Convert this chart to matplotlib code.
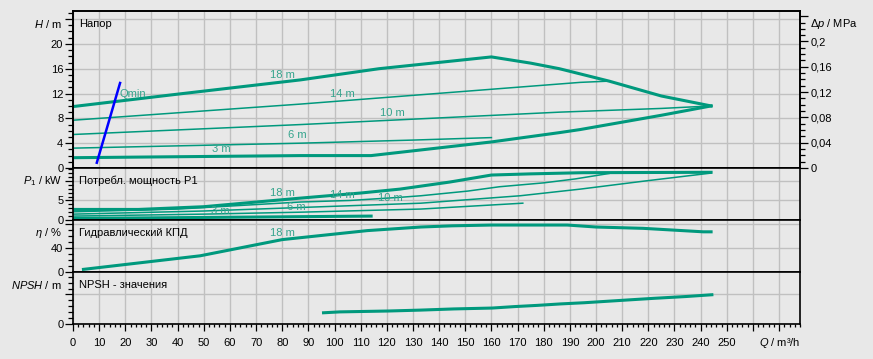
import matplotlib
matplotlib.use("Agg")
import matplotlib.pyplot as plt
from matplotlib.ticker import MultipleLocator, FixedLocator, FuncFormatter

plt.rcParams['font.family'] = ['Liberation Sans', 'DejaVu Sans']
plt.rcParams['font.size'] = 8
plt.rcParams['mathtext.fontset'] = 'custom'
plt.rcParams['mathtext.rm'] = 'Liberation Sans'
plt.rcParams['mathtext.it'] = 'Liberation Sans:italic'

# --- Напор (H, m) ---
q_h18 = [0, 40, 87, 117, 160, 175, 186, 205, 225, 244]
h_18 = [9.9, 11.9, 14.2, 16.0, 17.9, 16.9, 16.0, 14.0, 11.6, 10.0]
q_h14 = [0, 87, 194, 205]
h_14 = [7.7, 10.3, 13.8, 14.0]
q_h10 = [0, 87, 186, 225, 244]
h_10 = [5.4, 7.0, 9.0, 9.6, 10.0]
q_h6 = [0, 87, 130, 160]
h_6 = [3.2, 4.0, 4.5, 4.9]
q_h3 = [0, 87, 114, 160, 186, 194, 225, 244]
h_3 = [1.66, 2.0, 2.0, 4.2, 5.7, 6.2, 8.5, 10.0]
q_min = [9.1, 18.0]
h_min = [0.85, 13.7]

# --- Потребл. мощность P1 (kW) ---
q_p18 = [0, 25, 50, 87, 110, 125, 144, 160, 175, 195, 244]
p_18 = [2.7, 2.7, 3.4, 5.6, 6.9, 7.9, 9.7, 11.5, 11.8, 12.1, 12.2]
q_p14 = [0, 40, 87, 106, 125, 133, 151, 163, 180, 192, 205]
p_14 = [2.1, 2.8, 4.6, 5.0, 5.8, 6.2, 7.4, 8.5, 9.5, 10.5, 11.9]
q_p10 = [0, 50, 87, 133, 171, 194, 219, 244]
p_10 = [1.5, 2.3, 3.2, 4.3, 6.2, 7.9, 10.0, 12.0]
q_p6 = [0, 50, 87, 133, 172]
p_6 = [1.0, 1.5, 2.0, 2.8, 4.3]
q_p3 = [0, 60, 114]
p_3 = [0.4, 0.7, 1.0]

# --- Гидравлический КПД (%) ---
q_eta = [4, 20, 48.6, 80, 112.5, 133, 145, 160, 189, 200, 218, 241, 244]
eta_18 = [4.4, 12.5, 27, 54, 69, 75, 77, 78.3, 78.3, 75, 72.8, 67, 67]

# --- NPSH (m) ---
q_npsh = [95.8, 102, 120.7, 132.8, 145.6, 160.3, 169, 177.5, 186.5, 195.5,
          204.4, 213.3, 222.3, 234.4, 244.3]
npsh = [1.9, 2.05, 2.2, 2.35, 2.55, 2.7, 2.95, 3.15, 3.4, 3.6, 3.85, 4.1,
        4.35, 4.65, 4.95]

BG = '#e8e8e8'
GRID = '#c0c0c0'
TEAL = '#00997d'
LBL = '#36a48d'
W, H = 873, 359
THICK, THIN = 2.2, 1.1

fig = plt.figure(figsize=(W / 100, H / 100), dpi=100, facecolor=BG)


def panel(top, bottom, ymax):
    ax = fig.add_axes([73 / W, 1 - bottom / H, 727 / W, (bottom - top) / H])
    ax.set_facecolor(BG)
    ax.set_xlim(0, 278)
    ax.set_ylim(0, ymax)
    ax.xaxis.set_major_locator(MultipleLocator(10))
    ax.xaxis.set_minor_locator(MultipleLocator(2))
    ax.grid(True, which='major', color=GRID, lw=1.0)
    ax.set_axisbelow(True)
    for s in ax.spines.values():
        s.set_color('black')
        s.set_linewidth(1.2)
    ax.tick_params(axis='x', which='both', length=0, labelbottom=False)
    ax.tick_params(axis='y', which='major', length=5.5, width=0.9,
                   direction='out', pad=1.5, labelsize=8)
    ax.tick_params(axis='y', which='minor', length=3.5, width=0.9,
                   direction='out')
    return ax


def fmt_skip(top):
    return FuncFormatter(lambda v, p: '' if v >= top - 1e-9 else f'{v:g}')


def ftext(x, y, s, **kw):
    fig.text(x / W, 1 - y / H, s, va='center', fontsize=8, **kw)


# Head panel
ax1 = panel(11, 168, 25.3)
ax1.yaxis.set_major_locator(FixedLocator([0, 4, 8, 12, 16, 20, 24]))
ax1.yaxis.set_minor_locator(MultipleLocator(1))
ax1.yaxis.set_major_formatter(fmt_skip(24))
ax1.plot(q_h18, h_18, color=TEAL, lw=THICK)
ax1.plot(q_h14, h_14, color=TEAL, lw=THIN)
ax1.plot(q_h10, h_10, color=TEAL, lw=THIN)
ax1.plot(q_h6, h_6, color=TEAL, lw=THIN)
ax1.plot(q_h3, h_3, color=TEAL, lw=THICK)
ax1.plot(q_min, h_min, color='#0000ff', lw=1.8)
for q, h, s in [(80, 15.0, '18 m'), (103, 11.9, '14 m'), (122, 8.9, '10 m'),
                (85.8, 5.3, '6 m'), (56.7, 3.1, '3 m'), (23, 11.9, 'Qmin')]:
    ax1.text(q, h, s, color=LBL, fontsize=8, ha='center', va='center')

ax1r = ax1.twinx()
ax1r.set_ylim(0, 25.3 * 0.00981)
ax1r.yaxis.set_major_locator(FixedLocator([0, 0.04, 0.08, 0.12, 0.16, 0.2, 0.24]))
ax1r.yaxis.set_minor_locator(MultipleLocator(0.01))
ax1r.yaxis.set_major_formatter(FuncFormatter(
    lambda v, p: '' if v > 0.23 else f'{v:g}'.replace('.', ',')))
ax1r.tick_params(axis='y', which='major', length=5.5, width=0.9,
                 direction='out', pad=2, labelsize=8)
ax1r.tick_params(axis='y', which='minor', length=3.5, width=0.9,
                 direction='out')
for s in ax1r.spines.values():
    s.set_color('black')
    s.set_linewidth(1.2)

# Power panel
ax2 = panel(168, 220, 13.3)
ax2.yaxis.set_major_locator(FixedLocator([0, 5, 10]))
ax2.yaxis.set_minor_locator(MultipleLocator(1))
ax2.yaxis.set_major_formatter(fmt_skip(10))
ax2.plot(q_p18, p_18, color=TEAL, lw=THICK)
ax2.plot(q_p14, p_14, color=TEAL, lw=THIN)
ax2.plot(q_p10, p_10, color=TEAL, lw=THIN)
ax2.plot(q_p6, p_6, color=TEAL, lw=THIN)
ax2.plot(q_p3, p_3, color=TEAL, lw=THICK)
for q, p, s in [(80, 6.8, '18 m'), (103, 6.4, '14 m'), (121.4, 5.6, '10 m'),
                (85.5, 3.4, '6 m'), (56.3, 2.4, '3 m')]:
    ax2.text(q, p, s, color=LBL, fontsize=8, ha='center', va='center')

# Efficiency panel
ax3 = panel(220, 272, 86.7)
ax3.yaxis.set_major_locator(FixedLocator([0, 40, 80]))
ax3.yaxis.set_minor_locator(MultipleLocator(10))
ax3.yaxis.set_major_formatter(fmt_skip(80))
ax3.plot(q_eta, eta_18, color=TEAL, lw=THICK)
ax3.text(80, 65.5, '18 m', color=LBL, fontsize=8, ha='center', va='center')

# NPSH panel
ax4 = panel(272, 324, 8.8)
ax4.yaxis.set_major_locator(FixedLocator([0, 5]))
ax4.yaxis.set_minor_locator(MultipleLocator(1))
ax4.yaxis.set_major_formatter(fmt_skip(5))
ax4.plot(q_npsh, npsh, color=TEAL, lw=THICK)
ax4.tick_params(axis='x', which='major', length=5, width=0.9, direction='out',
                labelbottom=True, pad=5, labelsize=8)
ax4.tick_params(axis='x', which='minor', length=2.5, width=0.9, direction='out')
ax4.xaxis.set_major_formatter(fmt_skip(260))

# Panel titles and axis names
ftext(79, 24, 'Напор')
ftext(79, 181, 'Потребл. мощность P1')
ftext(79, 233, 'Гидравлический КПД')
ftext(79, 285, 'NPSH - значения')
ftext(62, 24, r'$H$ / m', ha='right')
ftext(62, 181, r'$P_1$ / kW', ha='right')
ftext(62, 233, r'$\eta$ / %', ha='right')
ftext(62, 285, r'$NPSH$ / m', ha='right')
ftext(810, 24, r'$\Delta p$ / MPa', ha='left')
ftext(800, 343, r'$Q$ / m³/h', ha='right')

fig.savefig('out.png', dpi=100, facecolor=BG)
